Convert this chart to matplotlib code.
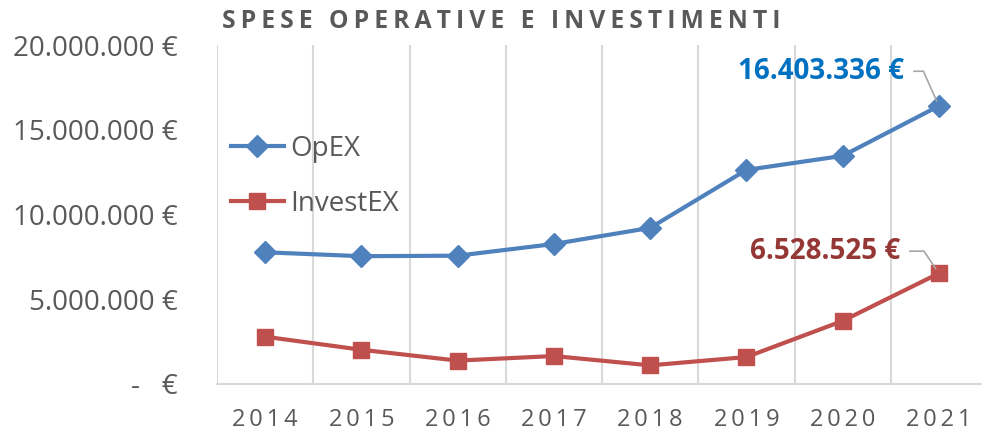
import matplotlib
matplotlib.use("Agg")
import matplotlib.pyplot as plt
from matplotlib.ticker import FuncFormatter, FixedLocator

years = ["2014", "2015", "2016", "2017", "2018", "2019", "2020", "2021"]
opex = [7770000, 7540000, 7570000, 8260000, 9210000, 12630000, 13460000, 16403336]
investex = [2790000, 2020000, 1380000, 1650000, 1100000, 1590000, 3720000, 6528525]
yticks = [0, 5000000, 10000000, 15000000, 20000000]
title = "SPESE OPERATIVE E INVESTIMENTI"

FONT = ["Open Sans", "DejaVu Sans"]
plt.rcParams['font.family'] = FONT
grey = "#595959"

fig = plt.figure(figsize=(9.82, 4.32), dpi=100)
ax = fig.add_axes([217/982, 48/432, 770/982, 339/432])
x = list(range(len(years)))

ax.plot(x, opex, color="#4F81BD", lw=3, marker="D", ms=11, label="OpEX", zorder=3)
ax.plot(x, investex, color="#C0504D", lw=3, marker="s", ms=12, label="InvestEX", zorder=3)

ax.set_xlim(-0.5, len(years) - 0.5)
ax.set_ylim(0, 20000000)
ax.set_yticks(yticks)

def fmt(v, pos=None):
    if v == 0:
        return "-   €"
    return f"{int(v):,}".replace(",", ".") + " €"

ax.yaxis.set_major_formatter(FuncFormatter(fmt))
ax.set_xticks(x)
ax.set_xticklabels(["\u2009".join(y) for y in years])
ax.xaxis.set_minor_locator(FixedLocator([i + 0.5 for i in range(-1, len(years))]))
ax.grid(which="minor", axis="x", color="#d9d9d9", lw=1.5)
ax.tick_params(axis="both", which="both", length=0)
ax.tick_params(axis="y", labelsize=20, labelcolor=grey, pad=28)
ax.tick_params(axis="x", labelsize=17, labelcolor=grey, pad=17)
for s in ["top", "right", "left"]:
    ax.spines[s].set_visible(False)
ax.spines["bottom"].set_color("#d9d9d9")
ax.spines["bottom"].set_linewidth(1.5)

leg = ax.legend(loc="upper left", bbox_to_anchor=(0.0, 0.775), frameon=False,
                fontsize=20, labelcolor=grey, handlelength=1.9, labelspacing=0.95,
                handletextpad=0.25, borderaxespad=0.3, borderpad=0.2)

fig.text(222/982, 1 - 22/432, "\u2009".join(title), fontsize=17.8,
         fontweight="bold", color=grey, va="center", ha="left")

# data labels with leader lines
last = len(years) - 1
ax.annotate(fmt(opex[-1]), xy=(last, opex[-1]), xytext=(-25, 25), textcoords="offset points",
            ha="right", va="center", fontsize=20, fontweight="bold", color="#0070C0",
            arrowprops=dict(arrowstyle="-", color="#a6a6a6", lw=1.2,
                            connectionstyle="angle,angleA=0,angleB=114,rad=0",
                            shrinkA=5, shrinkB=4))
ax.annotate(fmt(investex[-1]), xy=(last, investex[-1]), xytext=(-28, 16), textcoords="offset points",
            ha="right", va="center", fontsize=20, fontweight="bold", color="#953735",
            arrowprops=dict(arrowstyle="-", color="#a6a6a6", lw=1.2,
                            connectionstyle="angle,angleA=0,angleB=124,rad=0",
                            shrinkA=5, shrinkB=4))

fig.savefig("out.png", dpi=100)
